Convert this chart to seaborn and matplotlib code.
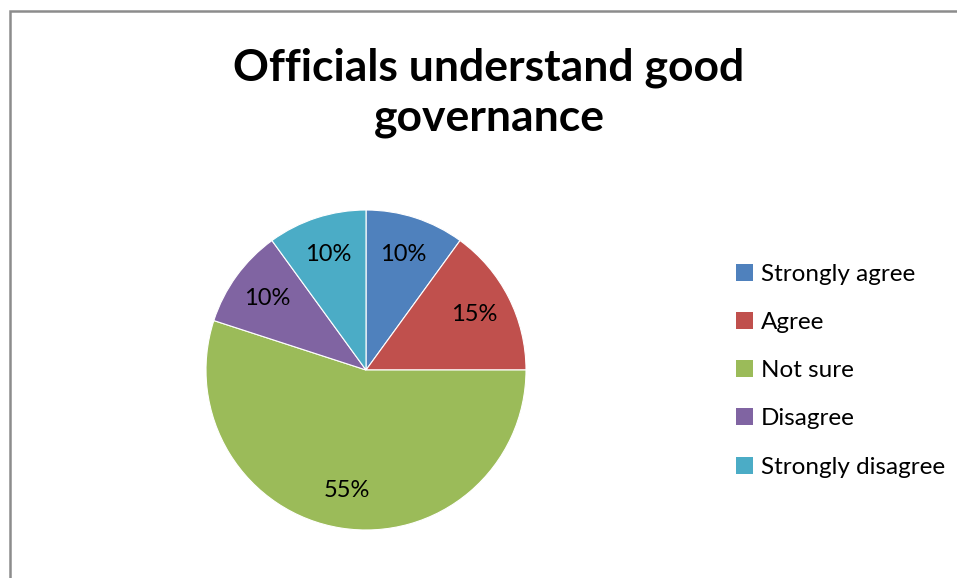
import matplotlib
matplotlib.use("Agg")
import matplotlib.pyplot as plt
from matplotlib.patches import Rectangle, Patch
import seaborn as sns

categories = ["Strongly agree", "Agree", "Not sure", "Disagree", "Strongly disagree"]
shares = [10, 15, 55, 10, 10]
title_text = "Officials understand good\ngovernance"

sns.set_theme(style="white")
plt.rcParams["font.family"] = ["Lato", "DejaVu Sans"]
palette = sns.color_palette(["#4F81BD", "#C0504D", "#9BBB59", "#8064A2", "#4BACC6"])

W, H = 957, 578
fig = plt.figure(figsize=(W / 100, H / 100), dpi=100)
fig.patch.set_facecolor("white")

# chart-area frame (top and left edges visible)
fig.patches.append(Rectangle((10 / W, -0.05), 1.1, (H - 11) / H + 0.05,
                             transform=fig.transFigure, fill=False,
                             edgecolor="#8c8c8c", linewidth=1.8))

cx, cy, r = 366, 370, 160
ax = fig.add_axes([(cx - r) / W, (H - cy - r) / H, 2 * r / W, 2 * r / H])
wedges, texts, autotexts = ax.pie(
    shares, colors=palette, startangle=90, counterclock=False,
    autopct=lambda p: f"{p:.0f}%", pctdistance=0.76, radius=1,
    wedgeprops=dict(linewidth=0.8, edgecolor="white"),
    textprops=dict(fontsize=17, color="#000000"))
ax.set_xlim(-1, 1)
ax.set_ylim(-1, 1)
ax.set_aspect("equal")
ax.axis("off")

fig.text(489 / W, 1 - 93 / H, title_text, ha="center", va="center",
         fontsize=32, fontweight="bold", color="#000000", linespacing=1.3)

handles = [Patch(facecolor=c, edgecolor="none") for c in palette]
fig.legend(handles, categories, loc="upper left",
           bbox_to_anchor=(726 / W, 1 - 254 / H), frameon=False,
           fontsize=17.5, labelcolor="#000000",
           handlelength=0.7, handleheight=0.7,
           handletextpad=0.35, labelspacing=1.12, borderaxespad=0)

fig.savefig("out.png", dpi=100, facecolor="white")
